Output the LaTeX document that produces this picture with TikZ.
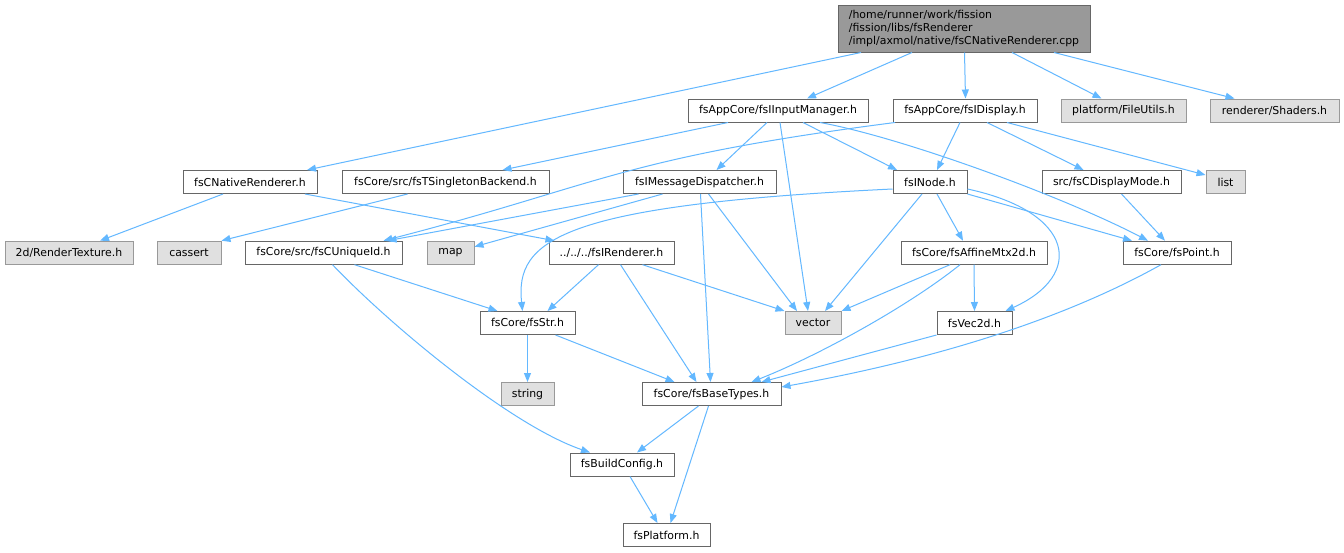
\documentclass[tikz,border=0pt]{standalone}
\usepackage{fontspec}
\setmainfont{DejaVu Sans}
\usetikzlibrary{arrows.meta}
\definecolor{edgec}{HTML}{63B8FF}
\definecolor{nbord}{HTML}{666666}
\definecolor{gbord}{HTML}{999999}
\definecolor{gfill}{HTML}{E0E0E0}
\definecolor{rfill}{HTML}{999999}
\tikzset{
  nb/.style={draw=nbord, fill=white, line width=1pt, rectangle, inner sep=0pt,
    minimum height=23, font=\fontsize{10.9}{12}\selectfont},
  gb/.style={nb, draw=gbord, fill=gfill},
  rootn/.style={nb, fill=rfill, minimum height=47, align=left,
    font=\fontsize{10.9}{12.6}\selectfont},
  inc/.style={draw=edgec, line width=1pt, -{Triangle[length=9pt,width=7pt]}}
}
\begin{document}
\begin{tikzpicture}[x=1pt,y=-1pt]
\useasboundingbox[fill=white] (0,0) rectangle (1344,552);
% row 1
\node[rootn, minimum width=252] (root) at (964,28.5) {/home/runner/work/fission\\/fission/libs/fsRenderer\\/impl/axmol/native/fsCNativeRenderer.cpp};
% row 2
\node[nb, minimum width=180] (inmgr) at (778,110.5) {fsAppCore/fsIInputManager.h};
\node[nb, minimum width=144] (disp) at (965,110.5) {fsAppCore/fsIDisplay.h};
\node[gb, minimum width=125] (fileu) at (1123.5,110.5) {platform/FileUtils.h};
\node[gb, minimum width=129] (shad) at (1274.5,110.5) {renderer/Shaders.h};
% row 3
\node[nb, minimum width=134] (cnr) at (250,182) {fsCNativeRenderer.h};
\node[nb, minimum width=207] (sing) at (445.5,182) {fsCore/src/fsTSingletonBackend.h};
\node[nb, minimum width=153] (msgd) at (699.5,182) {fsIMessageDispatcher.h};
\node[nb, minimum width=74] (inode) at (930,182) {fsINode.h};
\node[nb, minimum width=139] (dmode) at (1111.5,182) {src/fsCDisplayMode.h};
\node[gb, minimum width=39] (list) at (1225.5,182) {list};
% row 4
\node[gb, minimum width=128] (rtex) at (69,252.7) {2d/RenderTexture.h};
\node[gb, minimum width=64] (cass) at (189,252.7) {cassert};
\node[nb, minimum width=157] (uid) at (323.5,252.7) {fsCore/src/fsCUniqueId.h};
\node[gb, minimum width=47] (map) at (450.5,252.7) {map};
\node[nb, minimum width=125] (irend) at (611.5,252.7) {../../../fsIRenderer.h};
\node[nb, minimum width=146] (affine) at (974,252.7) {fsCore/fsAffineMtx2d.h};
\node[nb, minimum width=108] (point) at (1177,252.7) {fsCore/fsPoint.h};
% row 5
\node[nb, minimum width=95] (str) at (527.5,323) {fsCore/fsStr.h};
\node[gb, minimum width=56] (vect) at (813,323) {vector};
\node[nb, minimum width=75] (vec2d) at (974.5,323) {fsVec2d.h};
% row 6
\node[gb, minimum width=53] (strg) at (527.5,394) {string};
\node[nb, minimum width=139] (base) at (711.5,394) {fsCore/fsBaseTypes.h};
% row 7
\node[nb, minimum width=104] (build) at (622,464.5) {fsBuildConfig.h};
% row 8
\node[nb, minimum width=87] (plat) at (666.5,535) {fsPlatform.h};

% edges
\draw[inc] ([xshift=-103]root.south) -- ([xshift=57]cnr.north);
\draw[inc] ([xshift=-52]root.south) -- ([xshift=29]inmgr.north);
\draw[inc] ([xshift=0.5]root.south) -- ([xshift=0.5]disp.north);
\draw[inc] ([xshift=48]root.south) -- ([xshift=-22]fileu.north);
\draw[inc] ([xshift=90]root.south) -- ([xshift=-40]shad.north);
\draw[inc] ([xshift=-27]cnr.south) -- ([xshift=31]rtex.north);
\draw[inc] ([xshift=55]cnr.south) -- ([xshift=-57]irend.north);
\draw[inc] ([xshift=-50]inmgr.south) -- ([xshift=57]sing.north);
\draw[inc] ([xshift=-11]inmgr.south) -- ([xshift=17]msgd.north);
\draw[inc] ([xshift=2]inmgr.south) -- ([xshift=-5]vect.north);
\draw[inc] ([xshift=25]inmgr.south) -- ([xshift=-33]inode.north);
\draw[inc] ([xshift=42]inmgr.south) .. controls (900,137) and (1060,195) .. ([xshift=-29]point.north);
\draw[inc] ([xshift=-70]disp.south) .. controls (620,158) and (600,185) .. ([xshift=60]uid.north);
\draw[inc] ([xshift=-5]disp.south) -- ([xshift=7]inode.north);
\draw[inc] ([xshift=22]disp.south) -- ([xshift=-28]dmode.north);
\draw[inc] ([xshift=42]disp.south) -- ([yshift=7]list.west);
\draw[inc] ([xshift=-38]sing.south) -- (cass.north east);
\draw[inc] ([xshift=-61]msgd.south) -- ([xshift=64]uid.north);
\draw[inc] ([xshift=-37]msgd.south) -- ([yshift=6]map.east);
\draw[inc] ([xshift=1]msgd.south) -- ([xshift=-1]base.north);
\draw[inc] ([xshift=9]msgd.south) -- ([xshift=-16]vect.north);
\draw[inc] ([yshift=-7]inode.west) .. controls (560,205) and (515,240) .. ([xshift=-5]str.north);
\draw[inc] ([xshift=-8]inode.south) -- ([xshift=12]vect.north);
\draw[inc] ([xshift=7]inode.south) -- ([xshift=-11]affine.north);
\draw[inc] (inode.south east) -- ([xshift=-45]point.north);
\draw[inc] ([yshift=-7]inode.east) .. controls (1075,212) and (1085,275) .. ([xshift=31]vec2d.north);
\draw[inc] ([xshift=10]dmode.south) -- ([xshift=-12]point.north);
\draw[inc] ([xshift=-24]affine.south) -- (vect.north east);
\draw[inc] (affine.south) -- (vec2d.north);
\draw[inc] ([xshift=-14]affine.south) .. controls (910,305) and (820,355) .. ([xshift=40]base.north);
\draw[inc] ([xshift=-16]point.south) .. controls (1080,310) and (960,355) .. ([yshift=7]base.east);
\draw[inc] (vec2d.south west) -- ([xshift=50]base.north);
\draw[inc] ([xshift=31]uid.south) -- ([xshift=-30]str.north);
\draw[inc] ([xshift=9]uid.south) .. controls (390,325) and (510,425) .. ([xshift=-32]build.north);
\draw[inc] ([xshift=-13]irend.south) -- ([xshift=20]str.north);
\draw[inc] ([xshift=9]irend.south) -- ([xshift=-15]base.north);
\draw[inc] ([xshift=31]irend.south) -- (vect.north west);
\draw[inc] (str.south) -- (strg.north);
\draw[inc] ([xshift=28]str.south) -- ([xshift=-37]base.north);
\draw[inc] ([xshift=-13]base.south) -- ([xshift=15]build.north);
\draw[inc] ([xshift=-3]base.south) -- ([xshift=4]plat.north);
\draw[inc] ([xshift=8]build.south) -- ([xshift=-9]plat.north);
\end{tikzpicture}
\end{document}
